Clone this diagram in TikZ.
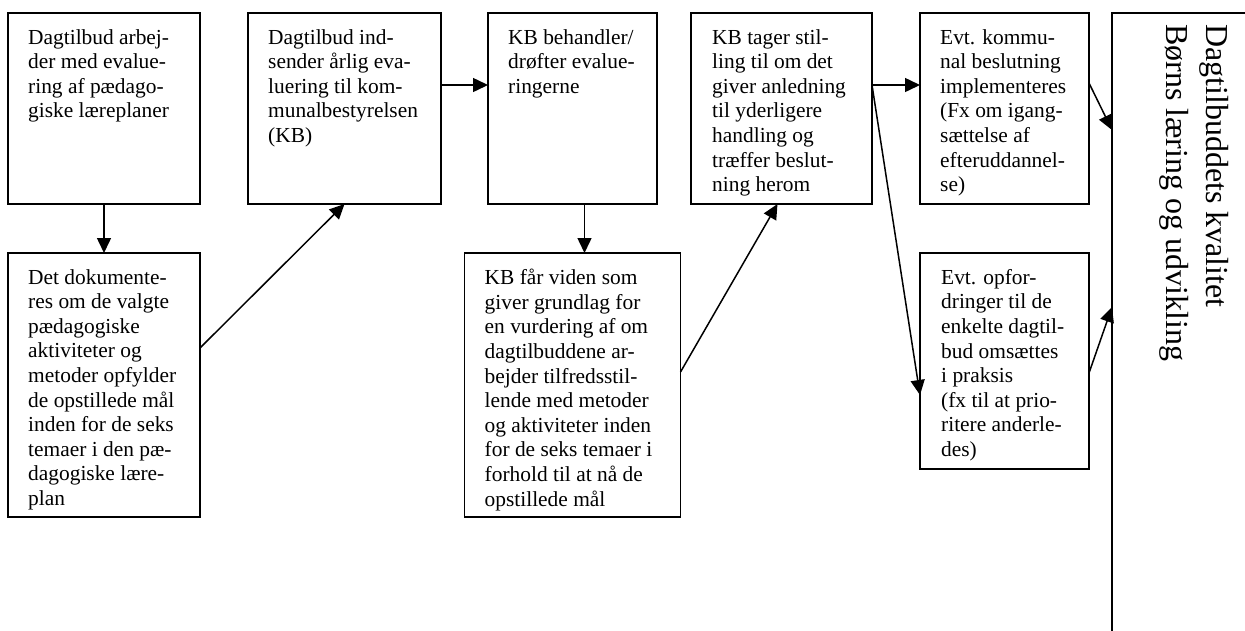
\documentclass[tikz,border=0pt]{standalone}
\usepackage{fontspec}
\setmainfont{Liberation Serif}
\usetikzlibrary{arrows.meta}
\usetikzlibrary{positioning}

\begin{document}
\begin{tikzpicture}[x=1pt,y=-1pt,
  stepbox/.style={draw=black,line width=1.6pt,rectangle,inner sep=0pt,outer sep=0pt},
  steptext/.style={align=left,inner sep=0pt,font=\fontsize{21.4}{24.6}\selectfont},
  bigtext/.style={align=left,inner sep=0pt,font=\fontsize{32}{40}\selectfont},
  flow/.style={draw=black,line width=1.5pt,-{Triangle[length=15pt,width=14pt]}}]
\clip (0,0) rectangle (1245,630);

\node[stepbox,minimum width=192pt,minimum height=191pt] (A) at (104,108.5) {};
\node[stepbox,minimum width=193pt,minimum height=191pt] (B) at (344.5,108.5) {};
\node[stepbox,minimum width=169pt,minimum height=191pt] (C) at (572.5,108.5) {};
\node[stepbox,minimum width=181pt,minimum height=191pt] (D) at (781.5,108.5) {};
\node[stepbox,minimum width=169pt,minimum height=191pt] (E) at (1004.5,108.5) {};
\node[stepbox,minimum width=192pt,minimum height=264pt] (G) at (104,385) {};
\node[stepbox,minimum width=216pt,minimum height=264pt] (H) at (572.5,385) {};
\node[stepbox,minimum width=169pt,minimum height=216pt] (I) at (1004.5,361) {};
\node[stepbox,minimum width=188pt,minimum height=687pt] (F) at (1206,356.5) {};

\node[steptext,below right=16pt and 20pt of A.north west] (At) {Dagtilbud arbej-\\der med evalue-\\ring af pædago-\\giske læreplaner};
\node[steptext,below right=16pt and 20pt of B.north west] (Bt) {Dagtilbud ind-\\sender årlig eva-\\luering til kom-\\munalbestyrelsen\\(KB)};
\node[steptext,below right=16pt and 20pt of C.north west] (Ct) {KB behandler/\\drøfter evalue-\\ringerne};
\node[steptext,below right=16pt and 21pt of D.north west] (Dt) {KB tager stil-\\ling til om det\\giver anledning\\til yderligere\\handling og\\træffer beslut-\\ning herom};
\node[steptext,below right=16pt and 20pt of E.north west] (Et) {Evt. kommu-\\nal beslutning\\implementeres\\(Fx om igang-\\sættelse af\\efteruddannel-\\se)};
\node[steptext,below right=16pt and 20pt of G.north west] (Gt) {Det dokumente-\\res om de valgte\\pædagogiske\\aktiviteter og\\metoder opfylder\\de opstillede mål\\inden for de seks\\temaer i den pæ-\\dagogiske lære-\\plan};
\node[steptext,below right=16pt and 20pt of H.north west] (Ht) {KB får viden som\\giver grundlag for\\en vurdering af om\\dagtilbuddene ar-\\bejder tilfredsstil-\\lende med metoder\\og aktiviteter inden\\for de seks temaer i\\forhold til at nå de\\opstillede mål};
\node[steptext,below right=16pt and 21pt of I.north west] (It) {Evt. opfor-\\dringer til de\\enkelte dagtil-\\bud omsættes\\i praksis\\(fx til at prio-\\ritere anderle-\\des)};
\node[bigtext,rotate=-90,anchor=north west] (Ft) at ([xshift=117pt,yshift=-11pt]F.north west) {Dagtilbuddets kvalitet\\Børns læring og udvikling};

\draw[flow] (A.south) -- (G.north);
\draw[flow] ([yshift=-95pt]G.north east) -- (B.south);
\draw[flow] ([yshift=-72pt]B.north east) -- ([yshift=-72pt]C.north west);
\draw[flow] ([xshift=12pt]C.south) -- ([xshift=12pt]H.north);
\draw[flow] ([yshift=-119pt]H.north east) -- ([xshift=-4pt]D.south);
\draw[flow] ([yshift=-72pt]D.north east) -- ([yshift=-72pt]E.north west);
\draw[flow] ([yshift=-72pt]D.north east) -- ([yshift=-142pt]I.north west);
\draw[flow] ([yshift=-70pt]E.north east) -- ([yshift=-117pt]F.north west);
\draw[flow] ([yshift=-120pt]I.north east) -- ([yshift=-294pt]F.north west);

\end{tikzpicture}
\end{document}
